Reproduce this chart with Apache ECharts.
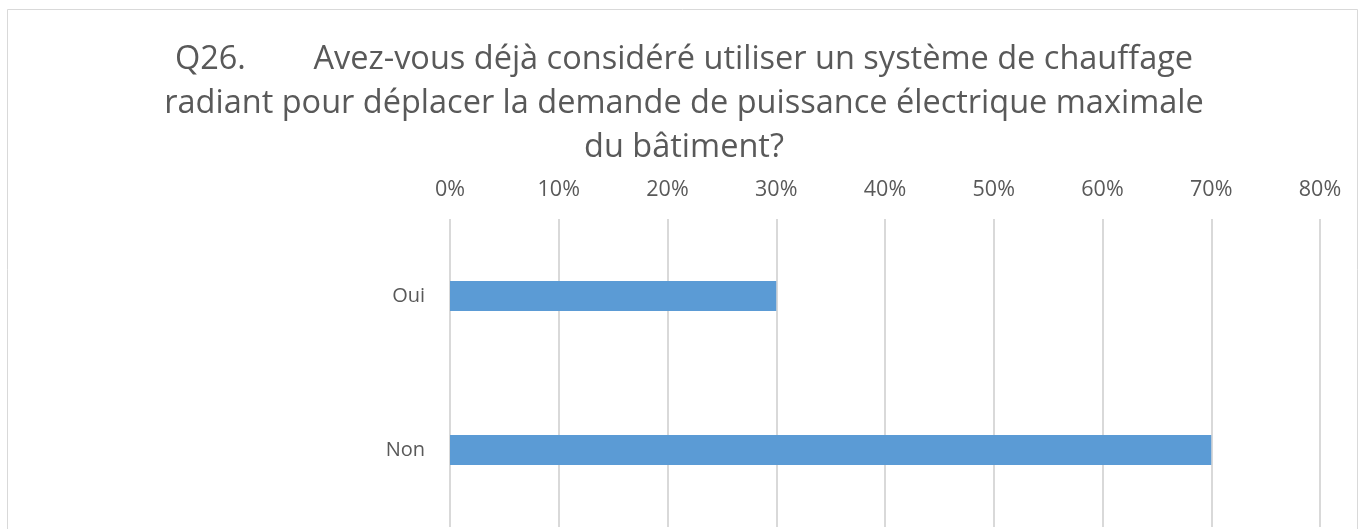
<!DOCTYPE html>
<html><head><meta charset="utf-8">
<script src="https://cdn.jsdelivr.net/npm/echarts@6/dist/echarts.min.js"></script>
<style>html,body{margin:0;padding:0;background:#fff}#c{width:1359px;height:529px}</style>
</head><body><div id="c"></div>
<script>
const categories = ['Oui', 'Non'];
const values = [30, 70];
const titleLines = [
  'Q26.\u00a0\u00a0\u00a0\u00a0\u00a0\u00a0\u00a0\u00a0Avez-vous déjà considéré utiliser un système de chauffage',
  'radiant pour déplacer la demande de puissance électrique maximale',
  'du bâtiment?'
];
const chart = echarts.init(document.getElementById('c'));
chart.setOption({
  animation: false,
  backgroundColor: '#fff',
  textStyle: { fontFamily: 'Open Sans' },
  title: {
    text: titleLines.join('\n'),
    left: 679, top: 33, textAlign: 'center',
    textStyle: { fontFamily: 'Open Sans', fontSize: 32.5, fontWeight: 'normal', color: '#595959', lineHeight: 44 }
  },
  graphic: [{
    type: 'rect', shape: { x: 7.5, y: 9.5, width: 1350, height: 540 },
    style: { fill: 'none', stroke: '#d9d9d9', lineWidth: 1 }, silent: true
  }],
  grid: { left: 450, right: 39, top: 219, bottom: 2 },
  xAxis: {
    type: 'value', position: 'top', min: 0, max: 80, interval: 10,
    axisLine: { show: false }, axisTick: { show: false },
    axisLabel: { formatter: '{value}%', color: '#595959', fontSize: 21.5, margin: 18, fontFamily: 'Open Sans' },
    splitLine: { lineStyle: { color: '#d9d9d9', width: 2 } }
  },
  yAxis: {
    type: 'category', data: categories, inverse: true,
    axisLine: { show: false }, axisTick: { show: false },
    axisLabel: { color: '#595959', fontSize: 20, margin: 25, fontFamily: 'Open Sans' }
  },
  series: [{
    type: 'bar', data: values, barWidth: 30,
    itemStyle: { color: '#5b9bd5' }
  }]
});
</script></body></html>
